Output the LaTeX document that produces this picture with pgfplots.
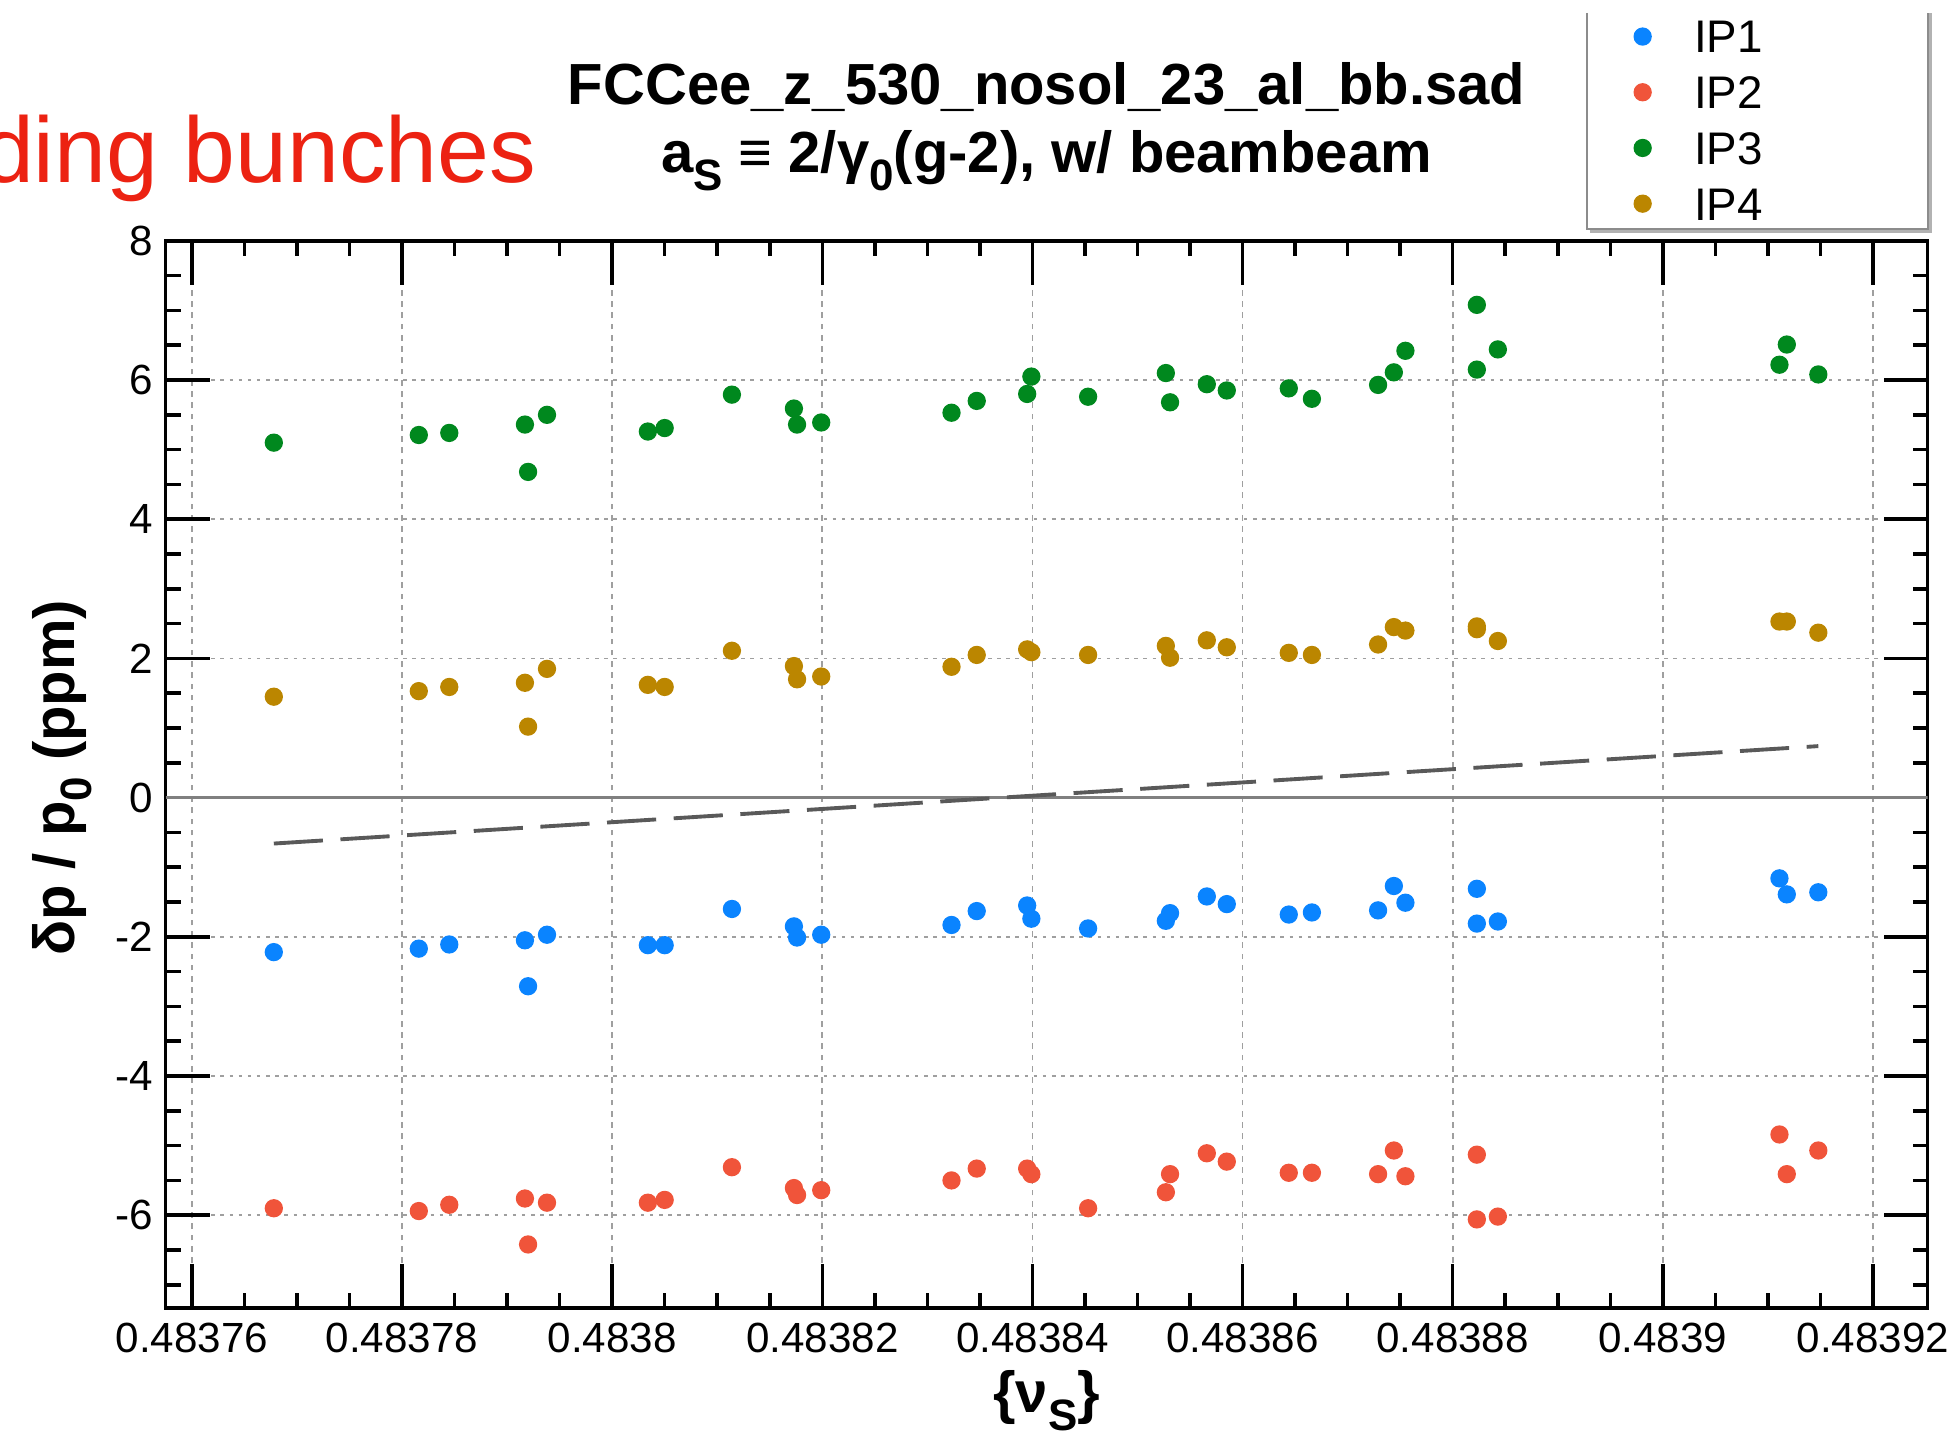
\documentclass[border=0pt]{standalone}
\usepackage{fontspec}
\setmainfont{Liberation Sans}
\usepackage{pgfplots}
\usepackage{pgfplotstable}
\pgfplotsset{compat=1.18}

\definecolor{ipone}{RGB}{10,132,255}
\definecolor{iptwo}{RGB}{240,84,58}
\definecolor{ipthree}{RGB}{0,136,30}
\definecolor{ipfour}{RGB}{187,134,0}
\definecolor{slidered}{RGB}{236,34,18}

\newcommand\sub[1]{\raisebox{-0.3em}{\fontsize{12.5}{13}\selectfont #1}}

% x = (nu_s - 0.48376) * 1e5 ; ticks are relabelled in the axis
\pgfplotstableread{
x     ip1   ip2   ip3  ip4
0.78  -2.22 -5.90 5.10 1.45
2.16  -2.17 -5.94 5.21 1.53
2.45  -2.11 -5.85 5.24 1.59
3.17  -2.05 -5.76 5.36 1.65
3.20  -2.71 -6.42 4.68 1.02
3.38  -1.97 -5.82 5.50 1.85
4.34  -2.12 -5.82 5.26 1.62
4.50  -2.12 -5.78 5.31 1.59
5.14  -1.60 -5.31 5.79 2.11
5.73  -1.85 -5.61 5.59 1.89
5.76  -2.01 -5.71 5.36 1.70
5.99  -1.97 -5.64 5.39 1.74
7.23  -1.83 -5.50 5.53 1.88
7.47  -1.63 -5.33 5.70 2.05
7.95  -1.55 -5.33 5.80 2.13
7.99  -1.74 -5.41 6.05 2.09
8.53  -1.88 -5.90 5.76 2.05
9.27  -1.77 -5.67 6.10 2.18
9.31  -1.66 -5.41 5.68 2.01
9.66  -1.42 -5.11 5.94 2.26
9.85  -1.53 -5.23 5.85 2.16
10.44 -1.68 -5.39 5.88 2.08
10.66 -1.65 -5.39 5.73 2.05
11.29 -1.62 -5.41 5.93 2.20
11.44 -1.27 -5.07 6.11 2.45
11.55 -1.51 -5.44 6.42 2.40
12.23 -1.31 -5.13 7.08 2.46
12.23 -1.81 -6.06 6.15 2.42
12.43 -1.78 -6.02 6.44 2.25
15.11 -1.16 -4.84 6.22 2.53
15.18 -1.39 -5.41 6.51 2.53
15.48 -1.36 -5.07 6.08 2.37
}\bunches

\begin{document}
\begin{tikzpicture}
\begin{axis}[
  scale only axis,
  width=17.62cm, height=10.67cm,
  xmin=-0.25, xmax=16.52,
  ymin=-7.33, ymax=8,
  xtick={0,2,...,16},
  xticklabels={0.48376,0.48378,0.4838,0.48382,0.48384,0.48386,0.48388,0.4839,0.48392},
  minor x tick num=3,
  ytick={-6,-4,-2,0,2,4,6,8},
  yticklabels={-6,-4,-2,0,2,4,6,8},
  minor ytick={-7,-6.5,-5.5,-5,-4.5,-3.5,-3,-2.5,-1.5,-1,-0.5,0.5,1,1.5,2.5,3,3.5,4.5,5,5.5,6.5,7,7.5},
  tick align=inside,
  major tick length=0.44cm,
  minor tick length=0.15cm,
  tick style={black, line width=1pt},
  axis line style={line width=1pt},
  grid=major,
  major x grid style={gray!75, line width=0.5pt, dash pattern=on 1.6pt off 1.6pt},
  major y grid style={gray!75, line width=0.5pt, dash pattern=on 1pt off 1.6pt},
  ticklabel style={font=\fontsize{12}{14}\selectfont},
  xticklabel style={inner sep=0pt, text height=0.29cm, text depth=0pt, yshift=-0.15cm},
  yticklabel style={inner sep=0pt, xshift=-0.12cm},
  legend cell align=left,
  legend style={draw=none, fill=none, inner sep=0pt, row sep=0pt, column sep=0.43cm,
    font=\fontsize{13}{15}\selectfont,
    nodes={inner sep=0pt, text height=0.4425cm, text depth=0.1145cm},
    anchor=north west, at={(axis description cs:0.8331,1.2182)}},
]
\addplot[forget plot, no markers, color=gray, line width=0.7pt] coordinates {(-0.25,0) (16.52,0)};
\addplot[forget plot, no markers, color=black!65, line width=1.1pt, dash pattern=on 14pt off 5pt]
  coordinates {(0.78,-0.66) (15.48,0.74)};
\addplot[only marks, mark=*, mark size=2.4pt, color=ipone] table[x=x, y=ip1] {\bunches};
\addplot[only marks, mark=*, mark size=2.4pt, color=iptwo] table[x=x, y=ip2] {\bunches};
\addplot[only marks, mark=*, mark size=2.4pt, color=ipthree] table[x=x, y=ip3] {\bunches};
\addplot[only marks, mark=*, mark size=2.4pt, color=ipfour] table[x=x, y=ip4] {\bunches};
\legend{IP1,IP2,IP3,IP4}
\end{axis}
% legend frame, top edge cut off as in the slide
\draw[black!45, line width=0.6pt] (14.21,12.95) -- (14.21,10.79) -- (17.62,10.79) -- (17.62,12.95);
\draw[black!30, line width=0.8pt] (14.24,10.76) -- (17.65,10.76) -- (17.65,12.95);
% titles and labels
\node[anchor=base, font=\fontsize{16.5}{20}\selectfont\bfseries] at (8.81,12.03) {FCCee\_z\_530\_nosol\_23\_al\_bb.sad};
\node[anchor=base, font=\fontsize{16.5}{20}\selectfont\bfseries] at (8.81,11.35) {a\sub{S} ≡ 2/γ\sub{0}(g-2), w/ beambeam};
\node[rotate=90, font=\fontsize{16.5}{20}\selectfont\bfseries] at (-1.036,5.30) {δp / p\sub{0} (ppm)};
\node[anchor=base, font=\fontsize{16.5}{20}\selectfont\bfseries] at (8.81,-1.05) {\{ν\sub{S}\}};
\node[anchor=base east, text=slidered, font=\fontsize{26.5}{30}\selectfont] at (3.83,11.25) {ding bunches};
\pgfresetboundingbox
\path (-1.656,-1.272) rectangle (17.874,13.078);
\end{tikzpicture}
\end{document}
